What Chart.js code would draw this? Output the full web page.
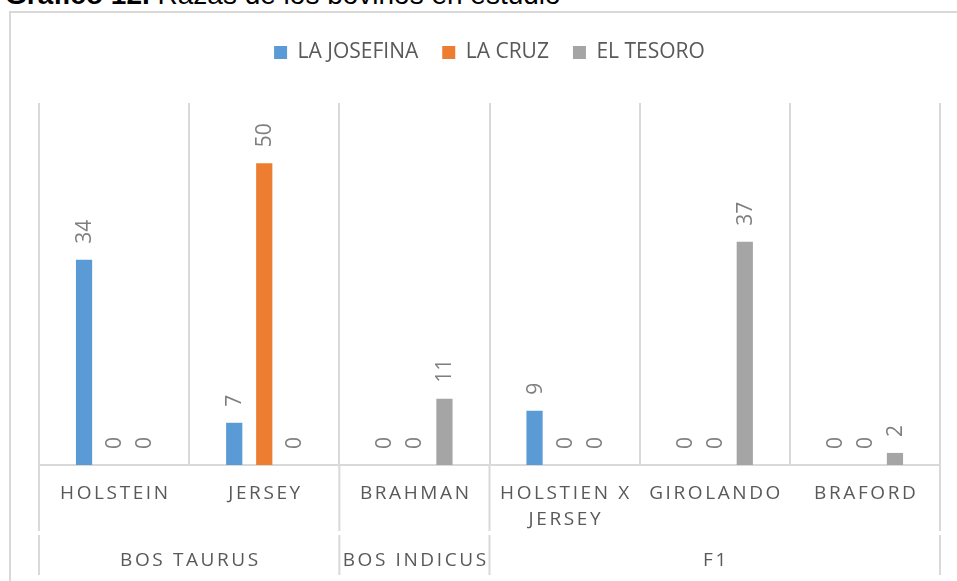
<!DOCTYPE html>
<html lang="es">
<head>
    <meta charset="UTF-8">
    <title>Razas de los bovinos en estudio</title>
    <script src="https://cdn.jsdelivr.net/npm/chart.js"></script>
    <style>
        html, body { margin: 0; padding: 0; background: #fff; }
        body { width: 957px; height: 581px; position: relative; overflow: hidden; }
        #titulo {
            position: absolute; left: 5px; top: -19px;
            font-family: "Liberation Sans", Arial, sans-serif;
            font-size: 28px; line-height: 28px; color: #000; white-space: nowrap;
        }
        #marco {
            position: absolute; left: 9px; top: 11px; width: 1000px; height: 700px;
            border: 2px solid #d9d9d9;
        }
        #wrap { position: absolute; left: 0; top: 0; width: 957px; height: 581px; }
    </style>
</head>
<body>

<div id="titulo"><b>Gráfico 12.</b> Razas de los bovinos en estudio</div>
<div id="marco"></div>
<div id="wrap"><canvas id="chart"></canvas></div>

<script>
// datos
const razas = [['HOLSTEIN'], ['JERSEY'], ['BRAHMAN'], ['HOLSTIEN X', 'JERSEY'], ['GIROLANDO'], ['BRAFORD']];
const grupos = ['BOS TAURUS', 'BOS INDICUS', 'F1'];
const razasPorGrupo = [2, 1, 3];
const laJosefina = [34, 7, 0, 9, 0, 0];
const laCruz = [0, 50, 0, 0, 0, 0];
const elTesoro = [0, 0, 11, 0, 37, 2];

const gris = '#d9d9d9';
const texto = '#595959';

// deja mas espacio bajo la leyenda
const espacioLeyenda = {
    id: 'espacioLeyenda',
    beforeLayout(chart) {
        const lg = chart.legend;
        if (lg && !lg._extra) {
            const fit = lg.fit;
            lg.fit = function () { fit.call(this); this.height += 30; };
            lg._extra = true;
        }
    }
};

// etiquetas de valor giradas sobre cada barra
const etiquetas = {
    id: 'etiquetas',
    afterDatasetsDraw(chart) {
        const ctx = chart.ctx;
        ctx.save();
        ctx.font = '21px "Open Sans"';
        ctx.fillStyle = '#7f7f7f';
        ctx.textAlign = 'left';
        ctx.textBaseline = 'middle';
        chart.data.datasets.forEach((ds, i) => {
            chart.getDatasetMeta(i).data.forEach((bar, j) => {
                ctx.save();
                ctx.translate(bar.x + 1, bar.y - 16);
                ctx.rotate(-Math.PI / 2);
                ctx.fillText(String(ds.data[j]), 0, 0);
                ctx.restore();
            });
        });
        ctx.restore();
    }
};

// eje x de dos niveles (razas y grupos)
const ejeDoble = {
    id: 'ejeDoble',
    afterDraw(chart) {
        const ctx = chart.ctx;
        const x = chart.scales.x;
        const base = chart.chartArea.bottom;
        const ancho = x.getPixelForValue(1) - x.getPixelForValue(0);
        const ls = 2.6;
        ctx.save();
        ctx.font = '19px "Open Sans"';
        ctx.letterSpacing = ls + 'px';
        ctx.fillStyle = texto;
        ctx.textAlign = 'center';
        ctx.textBaseline = 'middle';
        razas.forEach((lineas, i) => {
            const cx = x.getPixelForValue(i) + ls / 2;
            lineas.forEach((t, k) => ctx.fillText(t, cx, base + 29 + k * 26));
        });
        let ini = 0;
        const cortes = [x.getPixelForValue(0) - ancho / 2];
        grupos.forEach((g, i) => {
            const fin = ini + razasPorGrupo[i] - 1;
            const izq = x.getPixelForValue(ini) - ancho / 2;
            const der = x.getPixelForValue(fin) + ancho / 2;
            ctx.fillText(g, (izq + der) / 2 + ls / 2, base + 96);
            cortes.push(der);
            ini = fin + 1;
        });
        ctx.strokeStyle = gris;
        ctx.lineWidth = 2;
        cortes.forEach(px => {
            ctx.beginPath();
            ctx.moveTo(px, base);
            ctx.lineTo(px, base + 66);
            ctx.moveTo(px, base + 70);
            ctx.lineTo(px, base + 110);
            ctx.stroke();
        });
        ctx.restore();
    }
};

const chart = new Chart(document.getElementById('chart'), {
    type: 'bar',
    data: {
        labels: razas,
        datasets: [
            { label: 'LA JOSEFINA', data: laJosefina, backgroundColor: '#5b9bd5' },
            { label: 'LA CRUZ', data: laCruz, backgroundColor: '#ed7d31' },
            { label: 'EL TESORO', data: elTesoro, backgroundColor: '#a5a5a5' }
        ]
    },
    options: {
        responsive: true,
        maintainAspectRatio: false,
        animation: false,
        categoryPercentage: 0.6,
        barPercentage: 0.54,
        layout: { padding: { left: 39, right: 17, top: 18, bottom: 116 } },
        plugins: {
            legend: {
                position: 'top',
                labels: {
                    boxWidth: 13,
                    boxHeight: 13,
                    padding: 24,
                    color: texto,
                    font: { family: 'Open Sans', size: 21 }
                }
            },
            tooltip: { enabled: false }
        },
        scales: {
            x: {
                ticks: { display: false },
                grid: { offset: true, color: gris, lineWidth: 2, drawTicks: false },
                border: { display: true, color: gris, width: 2 }
            },
            y: { display: false, min: 0, max: 60 }
        }
    },
    plugins: [espacioLeyenda, etiquetas, ejeDoble]
});
</script>

</body>
</html>
